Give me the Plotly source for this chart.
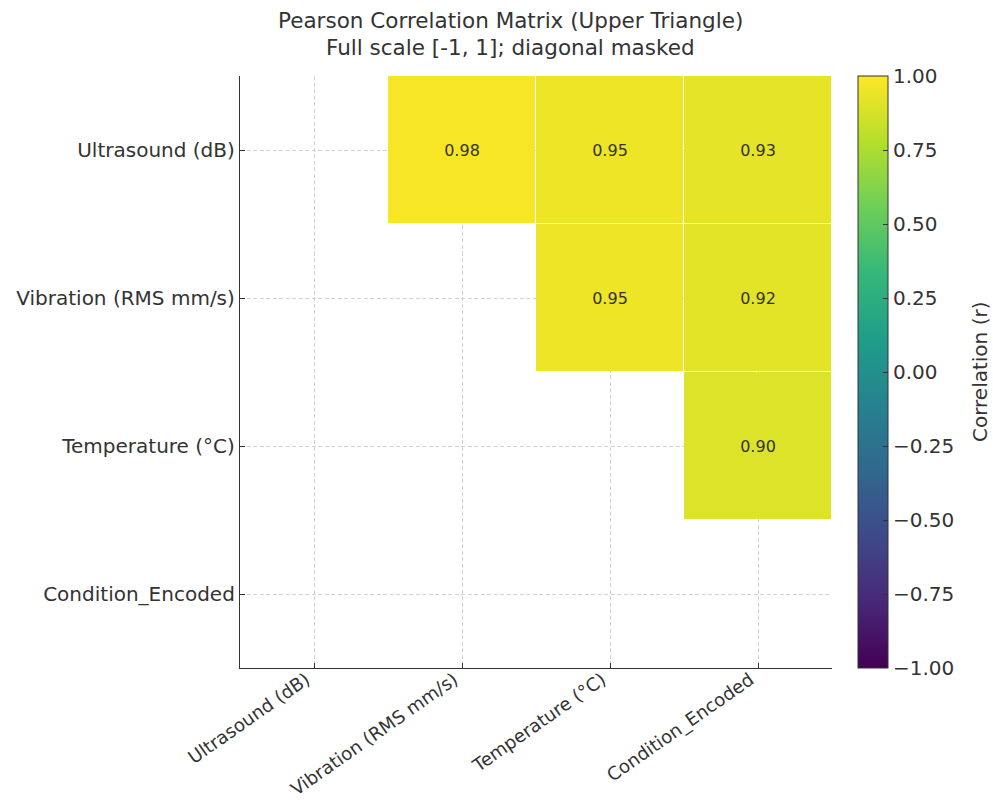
import plotly.graph_objects as go

# Variables in the correlation matrix (row / column order)
variables = ["Ultrasound (dB)", "Vibration (RMS mm/s)", "Temperature (°C)", "Condition_Encoded"]

# Upper-triangle Pearson r values, row by row (diagonal and lower triangle masked)
r_ultrasound = [None, 0.98, 0.95, 0.93]
r_vibration = [None, None, 0.95, 0.92]
r_temperature = [None, None, None, 0.90]
r_condition = [None, None, None, None]

cbar_tickvals = [-1.0, -0.75, -0.5, -0.25, 0.0, 0.25, 0.5, 0.75, 1.0]
cbar_ticktext = ["\u22121.00", "\u22120.75", "\u22120.50", "\u22120.25", "0.00",
                 "0.25", "0.50", "0.75", "1.00"]

z = [r_ultrasound, r_vibration, r_temperature, r_condition]
text = [["" if v is None else f"{v:.2f}" for v in row] for row in z]

FONT = "DejaVu Sans"
INK = "#333333"

fig = go.Figure(
    go.Heatmap(
        z=z,
        x=variables,
        y=variables,
        text=text,
        texttemplate="%{text}",
        textfont=dict(family=FONT, size=16, color=INK),
        colorscale="Viridis",
        zmin=-1,
        zmax=1,
        xgap=1,
        ygap=1,
        hoverongaps=False,
        colorbar=dict(
            x=(858 - 240) / 592,
            xanchor="left",
            xpad=0,
            y=0.5,
            yanchor="middle",
            ypad=0,
            len=1,
            lenmode="fraction",
            thickness=30,
            outlinewidth=1,
            outlinecolor=INK,
            tickmode="array",
            tickvals=cbar_tickvals,
            ticktext=cbar_ticktext,
            ticks="inside",
            ticklen=5,
            tickcolor=INK,
            ticklabelposition="outside",
            tickfont=dict(family=FONT, size=20, color=INK),
        ),
    )
)

axis_common = dict(
    type="category",
    automargin=False,
    showgrid=True,
    gridcolor="#d2d2d2",
    griddash="4px,2.5px",
    gridwidth=1,
    showline=True,
    linecolor=INK,
    linewidth=1.3,
    ticks="inside",
    ticklen=5,
    tickwidth=1.3,
    tickcolor=INK,
    zeroline=False,
    layer="above traces",
)

fig.update_xaxes(**axis_common, range=[-0.5, 3.5], tickangle=-35,
                 tickfont=dict(family=FONT, size=18.2, color=INK),
                 ticklabelstandoff=-7, ticklabelshift=-8,
                 categoryorder="array", categoryarray=variables)
fig.update_yaxes(**axis_common, range=[3.5, -0.5],
                 tickfont=dict(family=FONT, size=20, color=INK),
                 categoryorder="array", categoryarray=variables)

# Colorbar caption, rotated alongside the bar
fig.add_annotation(
    text="Correlation (r)", xref="paper", yref="paper",
    x=(980 - 240) / 592, y=(668 - 372) / 592,
    xanchor="center", yanchor="middle", textangle=-90, showarrow=False,
    font=dict(family=FONT, size=20, color=INK),
)

title_lines = ["Pearson Correlation Matrix (Upper Triangle)",
               "Full scale [-1, 1]; diagonal masked"]
for line, ypix in zip(title_lines, [20, 48]):
    fig.add_annotation(
        text=line, xref="paper", yref="paper",
        x=(510 - 240) / 592, y=1 + (76 - ypix) / 592,
        xanchor="center", yanchor="middle", showarrow=False,
        font=dict(family=FONT, size=21.5, color=INK),
    )

fig.update_layout(
    width=993,
    height=801,
    margin=dict(l=240, r=161, t=76, b=133, autoexpand=False),
    paper_bgcolor="white",
    plot_bgcolor="white",
    font=dict(family=FONT, color=INK),
)

fig.write_html("out.html")
